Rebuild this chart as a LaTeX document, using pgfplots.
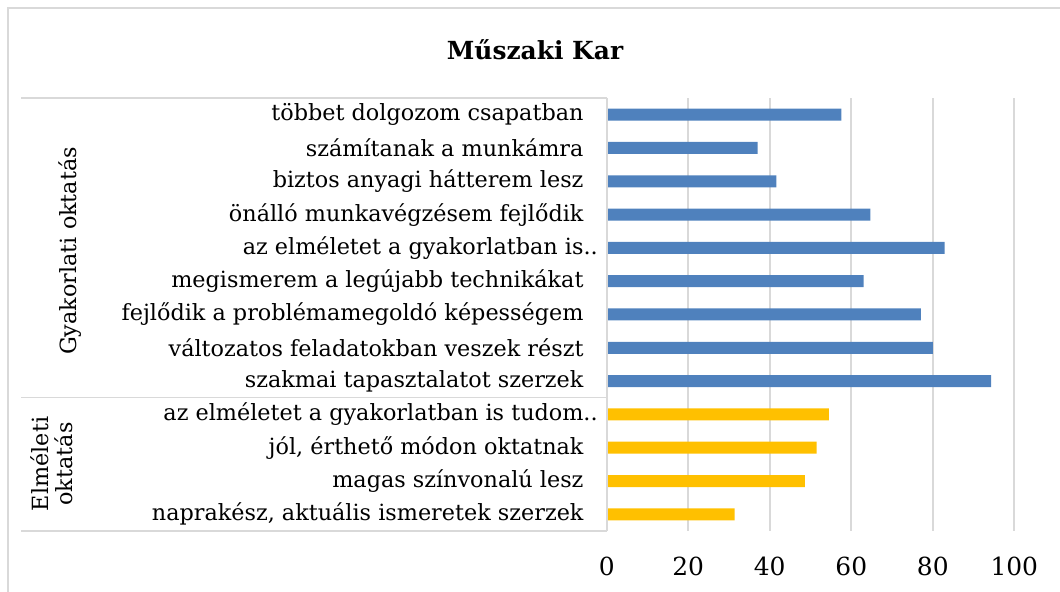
\documentclass[border=0pt]{standalone}
\usepackage{fontspec}
\setmainfont{DejaVu Serif}
\usepackage{pgfplots}
\pgfplotsset{compat=1.18}
\definecolor{barblue}{HTML}{4F81BD}
\definecolor{bargold}{HTML}{FFC000}
\definecolor{gridgray}{HTML}{D9D9D9}
\begin{document}
\begin{tikzpicture}[x=1bp,y=1bp]
\path[use as bounding box] (0,0) rectangle (1060,592);
% outer border
\draw[gridgray, line width=1.5bp] (8,0) -- (8,584) -- (1060,584);
% title
\node[font=\bfseries\fontsize{25}{30}\selectfont] at (535,542) {Műszaki Kar};
\begin{axis}[
  at={(606.7bp,61bp)}, anchor=south west,
  scale only axis, width=407.6bp, height=433bp,
  xmin=0, xmax=100, ymin=-0.5, ymax=12.5,
  xbar, bar width=12bp,
  xtick={0,20,...,100},
  xticklabels={{\fontsize{25}{30}\selectfont 0},{\fontsize{25}{30}\selectfont 20},{\fontsize{25}{30}\selectfont 40},{\fontsize{25}{30}\selectfont 60},{\fontsize{25}{30}\selectfont 80},{\fontsize{25}{30}\selectfont 100}},
  ytick={0,...,12},
  yticklabels={
    {naprakész, aktuális ismeretek szerzek},
    {magas színvonalú lesz\hspace{5bp}},
    {jól, érthető módon oktatnak},
    {az elméletet a gyakorlatban is tudom\rlap{..}},
    {szakmai tapasztalatot szerzek},
    {változatos feladatokban veszek részt\hspace{5bp}},
    {fejlődik a problémamegoldó képességem\hspace{5bp}},
    {megismerem a legújabb technikákat\hspace{5bp}},
    {az elméletet a gyakorlatban is\rlap{..}},
    {önálló munkavégzésem fejlődik},
    {biztos anyagi hátterem lesz\hspace{7bp}},
    {számítanak a munkámra},
    {többet dolgozom csapatban\hspace{7bp}}
  },
  major tick length=0pt,
  yticklabel style={font=\fontsize{22.4}{26}\selectfont, anchor=east, inner sep=0pt, xshift=-23bp},
  xticklabel style={anchor=base, inner sep=0pt, yshift=-45bp},
  xmajorgrids, grid style={draw=gridgray, line width=2bp},
  axis line style={draw=none},
  clip=false,
]
\addplot[fill=bargold, draw=none, bar shift=0pt] coordinates {
  (31.4,0) (48.6,1) (51.5,2) (54.5,3)
};
\addplot[fill=barblue, draw=none, bar shift=0pt] coordinates {
  (94.3,4) (80.0,5) (77.1,6) (63.0,7) (82.9,8) (64.7,9) (41.6,10) (37.0,11) (57.6,12)
};
\end{axis}
% y axis line and group separators
\draw[gridgray, line width=2bp] (606.7,61) -- (606.7,494);
\draw[gridgray, line width=1.5bp] (21,494) -- (606.7,494);
\draw[gridgray, line width=1.5bp] (21,194.5) -- (606.7,194.5);
\draw[gridgray, line width=1.5bp] (21,61) -- (606.7,61);
% group labels
\node[rotate=90, font=\fontsize{22.4}{24}\selectfont] at (70,341) {Gyakorlati oktatás};
\node[rotate=90, align=center, font=\fontsize{22.4}{24}\selectfont] at (52,128) {Elméleti\\oktatás};
\end{tikzpicture}
\end{document}
